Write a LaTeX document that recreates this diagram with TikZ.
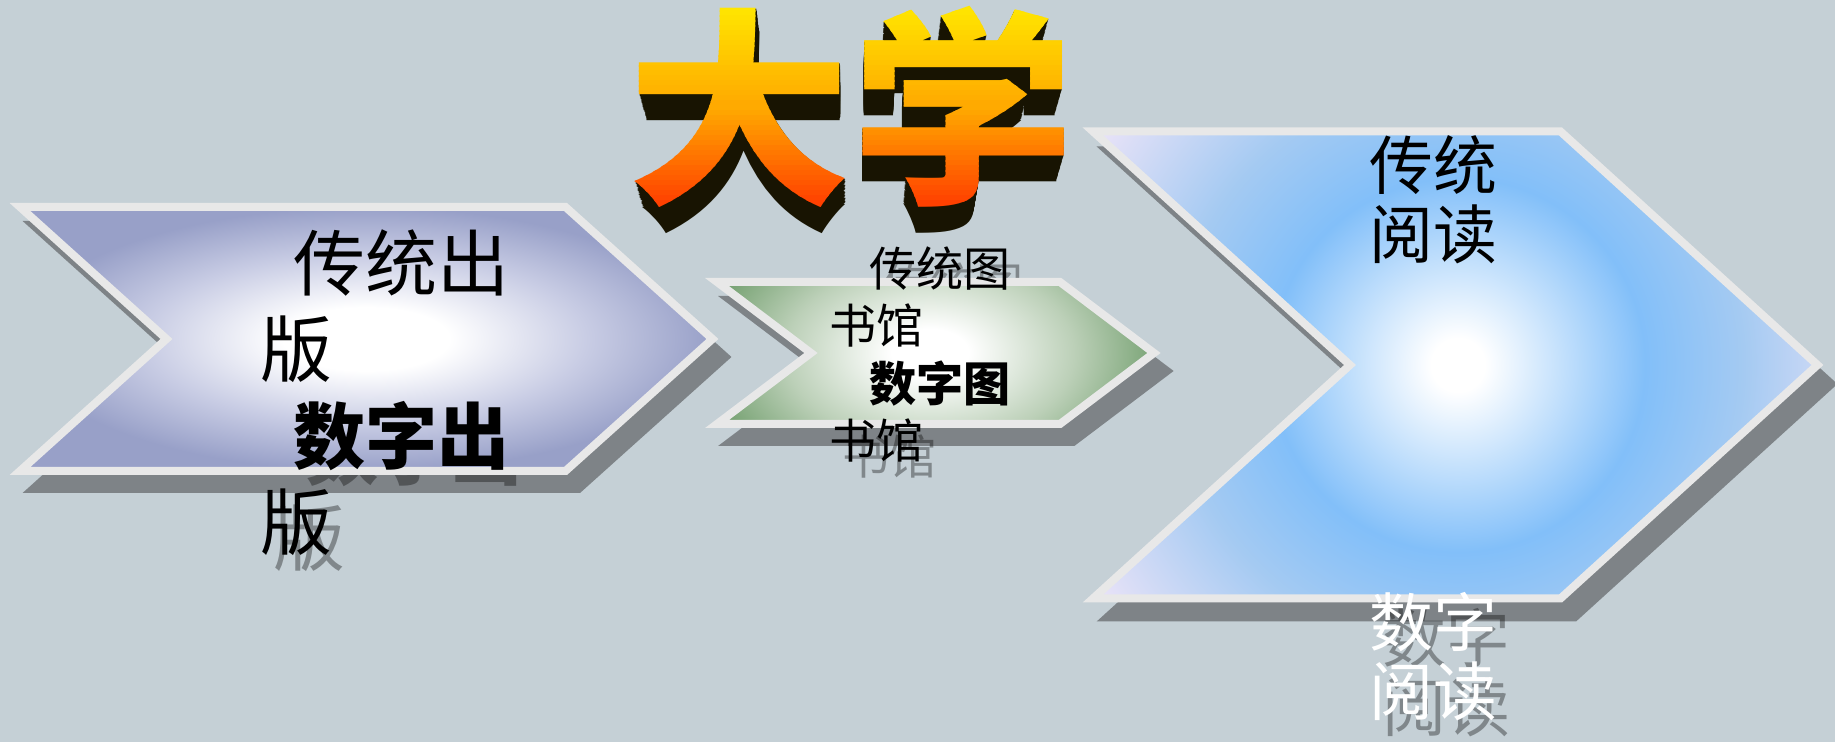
\documentclass[tikz,border=0pt]{standalone}
\usepackage{fontspec}
\usepackage{xcolor}
\usepackage{tikz}
\newfontfamily\hei{Noto Sans CJK SC}

\definecolor{slidebg}{RGB}{197,208,214}
\definecolor{rimgray}{RGB}{232,232,232}
\definecolor{dropgray}{RGB}{126,131,135}
\definecolor{pubedge}{RGB}{152,160,200}
\definecolor{pubmid}{RGB}{200,204,228}
\definecolor{libedge}{RGB}{110,156,106}
\definecolor{libmid}{RGB}{188,208,184}
\definecolor{readring}{RGB}{130,191,249}
\definecolor{readmid}{RGB}{164,202,242}
\definecolor{readedge}{RGB}{242,230,248}
\definecolor{wordyellow}{RGB}{255,230,0}
\definecolor{wordorange}{RGB}{255,170,0}
\definecolor{wordred}{RGB}{255,64,0}
\definecolor{worddepth}{RGB}{24,20,2}

% 25bp is the edge of the shaded path's bounding box
\pgfdeclareradialshading{pubshade}{\pgfpoint{0bp}{0bp}}{color(0bp)=(white); color(6bp)=(white); color(16bp)=(pubmid); color(25bp)=(pubedge); color(50bp)=(pubedge)}
\pgfdeclareradialshading{libshade}{\pgfpoint{0bp}{0bp}}{color(0bp)=(white); color(4bp)=(white); color(15bp)=(libmid); color(25bp)=(libedge); color(50bp)=(libedge)}
\pgfdeclareradialshading{readshade}{\pgfpoint{0bp}{0bp}}{color(0bp)=(white); color(1.5bp)=(white); color(10.5bp)=(readring); color(16bp)=(readmid); color(25bp)=(readedge); color(50bp)=(readedge)}

\newcommand\pubpath{(0.20,5.35) -- (5.655,5.35) -- (7.125,4.03) -- (5.655,2.71) -- (0.20,2.71) -- (1.665,4.03) -- cycle}
\newcommand\libpath{(7.17,4.60) -- (10.60,4.60) -- (11.54,3.89) -- (10.60,3.18) -- (7.17,3.18) -- (8.11,3.89) -- cycle}
\newcommand\readpath{(10.93,6.105) -- (15.605,6.105) -- (18.175,3.77) -- (15.605,1.435) -- (10.93,1.435) -- (13.50,3.77) -- cycle}

\begin{document}
\begin{tikzpicture}[
    rim/.style={draw=rimgray, line width=0.08cm},
    drop/.style={fill=dropgray, draw=dropgray, line width=0.08cm},
    pubtext/.style={font=\hei\fontsize{20.5}{24.6}\selectfont, align=left, inner sep=0pt, anchor=base west},
    libtext/.style={font=\hei\fontsize{13.4}{16}\selectfont, align=left, inner sep=0pt, anchor=base west},
    readtext/.style={font=\hei\fontsize{18.2}{19.8}\selectfont, align=center, inner sep=0pt, anchor=base},
    txtshadow/.style={text=black, text opacity=0.35, xshift=0.13cm, yshift=-0.16cm},
    wordart/.style={font=\hei\bfseries\fontsize{60}{60}\selectfont, inner sep=0pt, xscale=1.06}]
    \useasboundingbox (0,0) rectangle (18.35,7.42);
    \fill[slidebg] (0,0) rectangle (18.35,7.42);

    % drop shadows of the three arrows
    \path[drop, shift={(0.13,-0.18)}] \pubpath;
    \path[drop, shift={(0.13,-0.18)}] \libpath;
    \path[drop, shift={(0.14,-0.19)}] \readpath;

    % text shadows (hidden where the arrows cover them)
    % (base of a two-line node = baseline of its last line)
    \node[pubtext, txtshadow] (pubnewsh) at (2.60,1.925) {\bfseries\hspace*{0.33cm}数字出\\版};
    \node[libtext, txtshadow] (liboldsh) at (8.29,3.988) {\hspace*{0.40cm}传统图\\书馆};
    \node[libtext, txtshadow] (libnewsh) at (8.29,2.838) {\bfseries\hspace*{0.40cm}数字图\\书馆};
    \node[readtext, txtshadow] (readnewsh) at (14.33,0.264) {数字\\阅读};

    % arrows
    \shadedraw[shading=pubshade, rim] \pubpath;
    \begin{scope}
        \clip \libpath;
        \shade[shading=libshade] (9.30,3.89) ellipse (2.4 and 1.5);
    \end{scope}
    \draw[rim] \libpath;
    \begin{scope}
        \clip \readpath;
        \shade[shading=readshade] (14.58,3.77) circle (4.45);
    \end{scope}
    \draw[rim] \readpath;

    % labels
    \node[pubtext] (pubold) at (2.60,3.654) {\hspace*{0.33cm}传统出\\版};
    \node[pubtext] (pubnew) at (2.60,1.925) {\bfseries\hspace*{0.33cm}数字出\\版};
    \node[libtext] (libold) at (8.29,3.988) {\hspace*{0.40cm}传统图\\书馆};
    \node[libtext] (libnew) at (8.29,2.838) {\bfseries\hspace*{0.40cm}数字图\\书馆};
    \node[readtext] (readold) at (14.33,4.834) {传统\\阅读};
    \node[readtext, text=white] (readnew) at (14.33,0.264) {数字\\阅读};

    % title: extruded back, then the front in bands
    \foreach \k in {22,21,...,1}
        \node[wordart, text=worddepth, xscale={1-0.0016*\k}] (depth\k) at (8.515,{6.355-0.0118*\k}) {大学};
    \foreach \i in {0,...,39} {
        \ifnum\i<20
            \pgfmathtruncatemacro\mixp{\i*100/19}
            \colorlet{bandcol}{wordorange!\mixp!wordyellow}
        \else
            \pgfmathtruncatemacro\mixp{(\i-20)*100/19}
            \colorlet{bandcol}{wordred!\mixp!wordorange}
        \fi
        \begin{scope}
            \clip (6.0,{7.363-0.05*\i}) rectangle (11.0,{7.307-0.05*\i});
            \node[wordart, text=bandcol] (band\i) at (8.515,6.355) {大学};
        \end{scope}
    }
\end{tikzpicture}
\end{document}
